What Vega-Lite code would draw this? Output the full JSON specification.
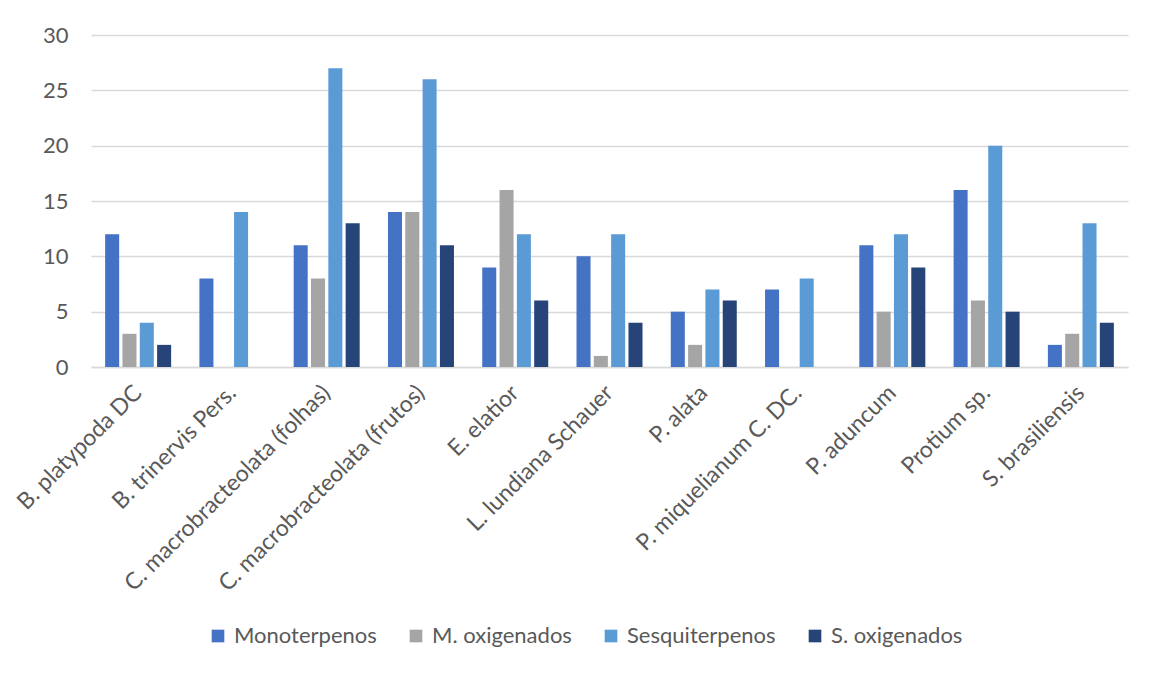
{
  "$schema": "https://vega.github.io/schema/vega-lite/v6.json",
  "width": 1037,
  "height": 332,
  "autosize": {"type": "none"},
  "padding": {"left": 91, "top": 35, "right": 25, "bottom": 308},
  "background": "white",
  "data": {
    "values": [
      {"especie": "B. platypoda DC", "classe": "Monoterpenos", "n": 12},
      {"especie": "B. platypoda DC", "classe": "M. oxigenados", "n": 3},
      {"especie": "B. platypoda DC", "classe": "Sesquiterpenos", "n": 4},
      {"especie": "B. platypoda DC", "classe": "S. oxigenados", "n": 2},
      {"especie": "B. trinervis Pers.", "classe": "Monoterpenos", "n": 8},
      {"especie": "B. trinervis Pers.", "classe": "M. oxigenados", "n": 0},
      {"especie": "B. trinervis Pers.", "classe": "Sesquiterpenos", "n": 14},
      {"especie": "B. trinervis Pers.", "classe": "S. oxigenados", "n": 0},
      {"especie": "C. macrobracteolata (folhas)", "classe": "Monoterpenos", "n": 11},
      {"especie": "C. macrobracteolata (folhas)", "classe": "M. oxigenados", "n": 8},
      {"especie": "C. macrobracteolata (folhas)", "classe": "Sesquiterpenos", "n": 27},
      {"especie": "C. macrobracteolata (folhas)", "classe": "S. oxigenados", "n": 13},
      {"especie": "C. macrobracteolata (frutos)", "classe": "Monoterpenos", "n": 14},
      {"especie": "C. macrobracteolata (frutos)", "classe": "M. oxigenados", "n": 14},
      {"especie": "C. macrobracteolata (frutos)", "classe": "Sesquiterpenos", "n": 26},
      {"especie": "C. macrobracteolata (frutos)", "classe": "S. oxigenados", "n": 11},
      {"especie": "E. elatior", "classe": "Monoterpenos", "n": 9},
      {"especie": "E. elatior", "classe": "M. oxigenados", "n": 16},
      {"especie": "E. elatior", "classe": "Sesquiterpenos", "n": 12},
      {"especie": "E. elatior", "classe": "S. oxigenados", "n": 6},
      {"especie": "L. lundiana Schauer", "classe": "Monoterpenos", "n": 10},
      {"especie": "L. lundiana Schauer", "classe": "M. oxigenados", "n": 1},
      {"especie": "L. lundiana Schauer", "classe": "Sesquiterpenos", "n": 12},
      {"especie": "L. lundiana Schauer", "classe": "S. oxigenados", "n": 4},
      {"especie": "P. alata", "classe": "Monoterpenos", "n": 5},
      {"especie": "P. alata", "classe": "M. oxigenados", "n": 2},
      {"especie": "P. alata", "classe": "Sesquiterpenos", "n": 7},
      {"especie": "P. alata", "classe": "S. oxigenados", "n": 6},
      {"especie": "P. miquelianum C. DC.", "classe": "Monoterpenos", "n": 7},
      {"especie": "P. miquelianum C. DC.", "classe": "M. oxigenados", "n": 0},
      {"especie": "P. miquelianum C. DC.", "classe": "Sesquiterpenos", "n": 8},
      {"especie": "P. miquelianum C. DC.", "classe": "S. oxigenados", "n": 0},
      {"especie": "P. aduncum", "classe": "Monoterpenos", "n": 11},
      {"especie": "P. aduncum", "classe": "M. oxigenados", "n": 5},
      {"especie": "P. aduncum", "classe": "Sesquiterpenos", "n": 12},
      {"especie": "P. aduncum", "classe": "S. oxigenados", "n": 9},
      {"especie": "Protium sp.", "classe": "Monoterpenos", "n": 16},
      {"especie": "Protium sp.", "classe": "M. oxigenados", "n": 6},
      {"especie": "Protium sp.", "classe": "Sesquiterpenos", "n": 20},
      {"especie": "Protium sp.", "classe": "S. oxigenados", "n": 5},
      {"especie": "S. brasiliensis", "classe": "Monoterpenos", "n": 2},
      {"especie": "S. brasiliensis", "classe": "M. oxigenados", "n": 3},
      {"especie": "S. brasiliensis", "classe": "Sesquiterpenos", "n": 13},
      {"especie": "S. brasiliensis", "classe": "S. oxigenados", "n": 4}
    ]
  },
  "mark": {"type": "bar"},
  "encoding": {
    "x": {
      "field": "especie",
      "type": "nominal",
      "sort": null,
      "scale": {"paddingInner": 0.3, "paddingOuter": 0.15},
      "axis": {
        "title": null,
        "labelAngle": -45,
        "labelAlign": "right",
        "labelBaseline": "middle",
        "labelPadding": 22,
        "labelFontSize": 23,
        "labelFont": "Lato",
        "labelColor": "#595959",
        "labelLimit": 0,
        "labelOverlap": false,
        "ticks": false,
        "domain": true,
        "domainColor": "#D9D9D9",
        "domainWidth": 1.5,
        "grid": false
      }
    },
    "xOffset": {
      "field": "classe",
      "type": "nominal",
      "scale": {
        "domain": ["Monoterpenos", "M. oxigenados", "Sesquiterpenos", "S. oxigenados"],
        "paddingInner": 0.19,
        "paddingOuter": 0
      }
    },
    "y": {
      "field": "n",
      "type": "quantitative",
      "scale": {"domain": [0, 30], "nice": false},
      "axis": {
        "title": null,
        "values": [0, 5, 10, 15, 20, 25, 30],
        "labelFontSize": 22,
        "labelFont": "Lato",
        "labelColor": "#595959",
        "labelPadding": 23,
        "ticks": false,
        "domain": false,
        "gridColor": "#D9D9D9",
        "gridWidth": 1.5
      }
    },
    "color": {
      "field": "classe",
      "type": "nominal",
      "scale": {
        "domain": ["Monoterpenos", "M. oxigenados", "Sesquiterpenos", "S. oxigenados"],
        "range": ["#4472C4", "#A5A5A5", "#5B9BD5", "#264478"]
      },
      "legend": {
        "title": null,
        "orient": "none",
        "direction": "horizontal",
        "legendX": 116,
        "legendY": 590,
        "symbolType": "square",
        "symbolSize": 160,
        "symbolStrokeWidth": 0,
        "labelFont": "Lato",
        "labelFontSize": 22,
        "labelColor": "#595959",
        "labelOffset": 5,
        "labelLimit": 0,
        "columnPadding": 28
      }
    }
  },
  "config": {
    "view": {"stroke": null}
  }
}
